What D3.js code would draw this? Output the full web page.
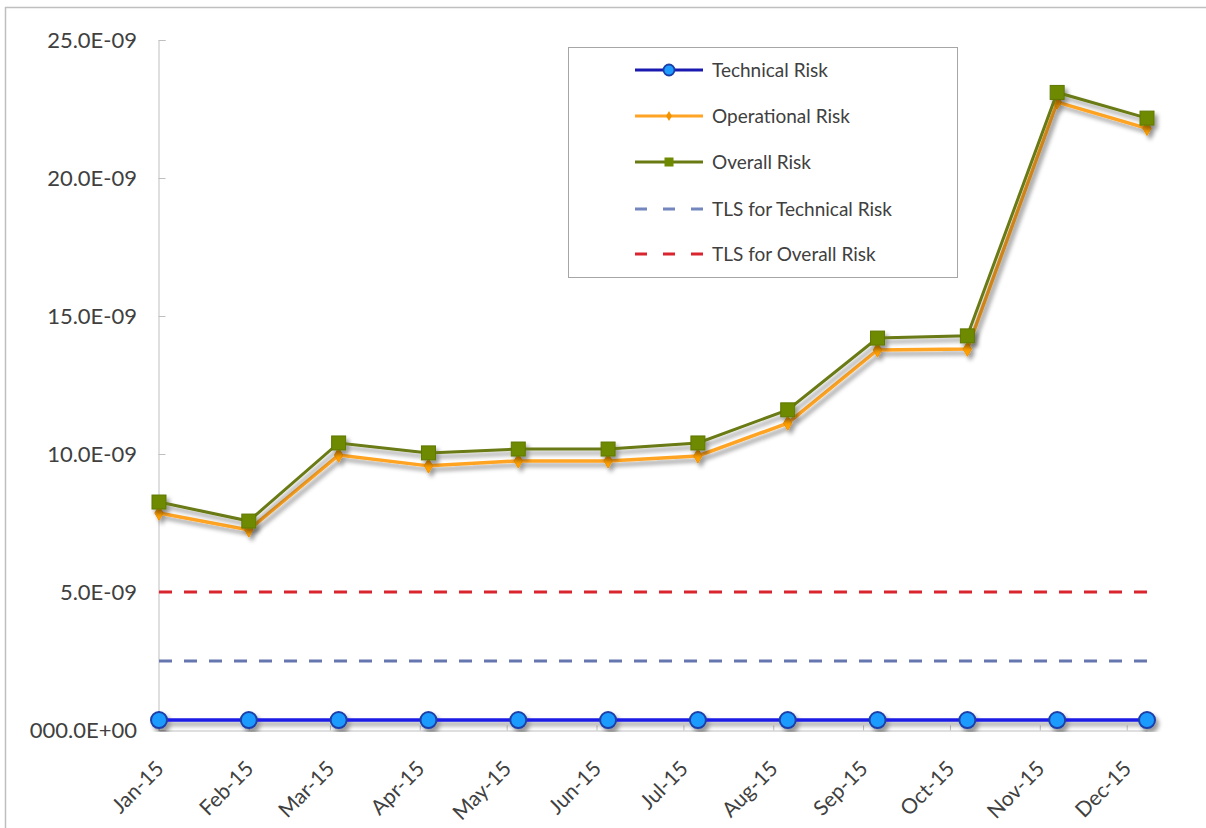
<!DOCTYPE html>
<html>
<head>
<meta charset="utf-8">
<script src="https://cdn.jsdelivr.net/npm/d3@7"></script>
<style>
  html, body { margin: 0; padding: 0; background: #fff; }
  svg { display: block; }
  text { font-family: Lato, "Open Sans", sans-serif; fill: #404040; }
</style>
</head>
<body>
<svg id="chart" width="1206" height="828"></svg>
<script>
// ---- data ----
const monthLabels = ["Jan-15","Feb-15","Mar-15","Apr-15","May-15","Jun-15","Jul-15","Aug-15","Sep-15","Oct-15","Nov-15","Dec-15"];
const pointDates = ["2015-01-01","2015-02-01","2015-03-04","2015-04-04","2015-05-05","2015-06-05","2015-07-06","2015-08-06","2015-09-06","2015-10-07","2015-11-07","2015-12-08"];
const technicalRisk = [0.36e-9,0.36e-9,0.36e-9,0.36e-9,0.36e-9,0.36e-9,0.36e-9,0.36e-9,0.36e-9,0.36e-9,0.36e-9,0.36e-9];
const operationalRisk = [7.86e-9,7.25e-9,9.96e-9,9.57e-9,9.75e-9,9.75e-9,9.93e-9,11.12e-9,13.77e-9,13.80e-9,22.75e-9,21.80e-9];
const overallRisk = [8.26e-9,7.57e-9,10.40e-9,10.04e-9,10.18e-9,10.18e-9,10.40e-9,11.60e-9,14.20e-9,14.28e-9,23.10e-9,22.17e-9];
const tlsTechnical = [2.5e-9,2.5e-9,2.5e-9,2.5e-9,2.5e-9,2.5e-9,2.5e-9,2.5e-9,2.5e-9,2.5e-9,2.5e-9,2.5e-9];
const tlsOverall = [5.0e-9,5.0e-9,5.0e-9,5.0e-9,5.0e-9,5.0e-9,5.0e-9,5.0e-9,5.0e-9,5.0e-9,5.0e-9,5.0e-9];
const yTicks = [0, 5e-9, 10e-9, 15e-9, 20e-9, 25e-9];
const legendNames = ["Technical Risk","Operational Risk","Overall Risk","TLS for Technical Risk","TLS for Overall Risk"];

// ---- setup ----
const svg = d3.select("#chart");
const parse = d3.timeParse("%Y-%m-%d");
const dates = pointDates.map(parse);
const monthStarts = d3.timeMonth.range(new Date(2015,0,1), new Date(2015,11,2));

const x = d3.scaleTime().domain([dates[0], dates[dates.length-1]]).range([159, 1147]);
const y = d3.scaleLinear().domain([0, 25e-9]).range([730, 40]);

const defs = svg.append("defs");
const f = defs.append("filter").attr("id","shadow").attr("x","-20%").attr("y","-20%").attr("width","140%").attr("height","140%");
f.append("feDropShadow").attr("dx",3).attr("dy",4).attr("stdDeviation",2.3)
  .attr("flood-color","#000").attr("flood-opacity",0.4);

// outer border (top & left)
svg.append("line").attr("x1",5).attr("x2",1206).attr("y1",7.5).attr("y2",7.5).attr("stroke","#BFBFBF").attr("stroke-width",1.5);
svg.append("line").attr("x1",5.5).attr("x2",5.5).attr("y1",7).attr("y2",828).attr("stroke","#BFBFBF").attr("stroke-width",1.5);

// y axis
const fmt = v => v === 0 ? "000.0E+00" : (v*1e9).toFixed(1) + "E-09";
const yAxis = svg.append("g").attr("transform","translate(158.5,0)")
  .call(d3.axisRight(y).tickValues(yTicks).tickSize(7).tickFormat(""));
yAxis.select(".domain").attr("stroke","#BFBFBF");
yAxis.selectAll(".tick line").attr("stroke","#BFBFBF");
svg.append("g").selectAll("text").data(yTicks).join("text")
  .attr("x",137).attr("y",d=>y(d)).attr("dy","0.35em")
  .attr("text-anchor","end").style("font-size","22px").text(fmt);

// x axis
const xAxis = svg.append("g").attr("transform","translate(0,730.5)")
  .call(d3.axisTop(x).tickValues(monthStarts).tickSize(5).tickSizeOuter(0).tickFormat(""));
xAxis.select(".domain").attr("stroke","#BFBFBF");
xAxis.selectAll(".tick line").attr("stroke","#BFBFBF");
svg.append("g").selectAll("text").data(monthStarts).join("text")
  .attr("transform", (d) => `translate(${x(d)+6},770) rotate(-45)`)
  .attr("text-anchor","end").style("font-size","21px")
  .text((d,i)=>monthLabels[i]);

// dashed TLS lines
const lineGen = vals => d3.line().x((d,i)=>x(dates[i])).y(d=>y(d))(vals);
svg.append("path").attr("d", lineGen(tlsTechnical)).attr("fill","none")
  .attr("stroke","#6677B0").attr("stroke-width",3).attr("stroke-dasharray","13,12");
svg.append("path").attr("d", lineGen(tlsOverall)).attr("fill","none")
  .attr("stroke","#D9262E").attr("stroke-width",3).attr("stroke-dasharray","13,12");

// Operational series
const gOp = svg.append("g").attr("filter","url(#shadow)");
gOp.append("path").attr("d", lineGen(operationalRisk)).attr("fill","none")
  .attr("stroke","#FFA424").attr("stroke-width",3.5);
gOp.selectAll("path.m").data(operationalRisk).join("path").attr("class","m")
  .attr("d", d3.symbol(d3.symbolDiamond, 60))
  .attr("transform",(d,i)=>`translate(${x(dates[i])},${y(d)})`)
  .attr("fill","#FFA000").attr("stroke","#F29400").attr("stroke-width",1);

// Overall series
const gOv = svg.append("g").attr("filter","url(#shadow)");
gOv.append("path").attr("d", lineGen(overallRisk)).attr("fill","none")
  .attr("stroke","#6A7A12").attr("stroke-width",3);
gOv.selectAll("rect").data(overallRisk).join("rect")
  .attr("x",(d,i)=>x(dates[i])-7).attr("y",d=>y(d)-7).attr("width",14).attr("height",14)
  .attr("fill","#6E8A00").attr("stroke","#5F7700").attr("stroke-width",1);

// Technical series
const gT = svg.append("g").attr("filter","url(#shadow)");
gT.append("path").attr("d", lineGen(technicalRisk)).attr("fill","none")
  .attr("stroke","#1A1AE6").attr("stroke-width",3.5);
gT.selectAll("circle").data(technicalRisk).join("circle")
  .attr("cx",(d,i)=>x(dates[i])).attr("cy",d=>y(d)).attr("r",8)
  .attr("fill","#1E9BFF").attr("stroke","#1B3FA8").attr("stroke-width",2);

// legend
const lg = svg.append("g");
lg.append("rect").attr("x",568.5).attr("y",47.5).attr("width",389).attr("height",230)
  .attr("fill","#fff").attr("stroke","#A6A6A6").attr("stroke-width",1);
const rowY = [70,116,162,209,254];
const lx1 = 635, lx2 = 703, lxm = 669;
// technical
lg.append("line").attr("x1",lx1).attr("x2",lx2).attr("y1",rowY[0]).attr("y2",rowY[0]).attr("stroke","#1A1AB0").attr("stroke-width",3);
lg.append("circle").attr("cx",lxm).attr("cy",rowY[0]).attr("r",5.5).attr("fill","#1E9BFF").attr("stroke","#1B3FA8").attr("stroke-width",1.8);
// operational
lg.append("line").attr("x1",lx1).attr("x2",lx2).attr("y1",rowY[1]).attr("y2",rowY[1]).attr("stroke","#FFA424").attr("stroke-width",3);
lg.append("path").attr("d", d3.symbol(d3.symbolDiamond, 30)).attr("transform",`translate(${lxm},${rowY[1]})`).attr("fill","#F29400");
// overall
lg.append("line").attr("x1",lx1).attr("x2",lx2).attr("y1",rowY[2]).attr("y2",rowY[2]).attr("stroke","#6A7A12").attr("stroke-width",3);
lg.append("rect").attr("x",lxm-4.5).attr("y",rowY[2]-4.5).attr("width",9).attr("height",9).attr("fill","#6E8A00");
// tls
lg.append("line").attr("x1",lx1).attr("x2",lx2).attr("y1",rowY[3]).attr("y2",rowY[3]).attr("stroke","#7386BE").attr("stroke-width",3).attr("stroke-dasharray","12,16");
lg.append("line").attr("x1",lx1).attr("x2",lx2).attr("y1",rowY[4]).attr("y2",rowY[4]).attr("stroke","#D9262E").attr("stroke-width",3).attr("stroke-dasharray","12,16");
lg.selectAll("text").data(legendNames).join("text")
  .attr("x",712).attr("y",(d,i)=>rowY[i]).attr("dy","0.35em")
  .style("font-size","19px").text(d=>d);
</script>
</body>
</html>
